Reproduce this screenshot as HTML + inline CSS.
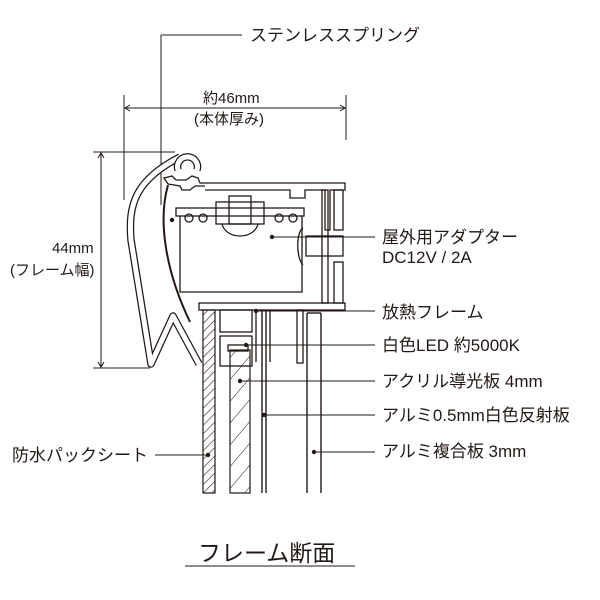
<!DOCTYPE html>
<html><head><meta charset="utf-8"><style>
body{margin:0;background:#fff}
svg{display:block}
text{font-family:"Liberation Sans","Noto Sans CJK JP",sans-serif;fill:#231815}
</style></head><body>
<svg width="600" height="600" viewBox="0 0 600 600" xmlns="http://www.w3.org/2000/svg">
<defs>
<pattern id="h" width="6" height="6" patternUnits="userSpaceOnUse" patternTransform="rotate(45)"><line x1="0" y1="0" x2="0" y2="6" stroke="#231815" stroke-width="1.2"/></pattern>
<pattern id="h2" width="14" height="14" patternUnits="userSpaceOnUse" patternTransform="rotate(40)"><line x1="0" y1="0" x2="0" y2="14" stroke="#231815" stroke-width="1"/></pattern>
</defs>
<g stroke="#231815" fill="none" stroke-width="1">
<line x1="161" y1="35" x2="242" y2="35"/>
<line x1="161" y1="35" x2="161" y2="205"/>
<line x1="124" y1="95" x2="124" y2="200"/>
<line x1="346" y1="95" x2="346" y2="140"/>
<line x1="125" y1="108" x2="345" y2="108"/>
<polyline points="130,105 125,108 130,111"/><polyline points="340,105 345,108 340,111"/>
<line x1="93" y1="152" x2="175" y2="152"/>
<line x1="93" y1="368" x2="150" y2="368"/>
<line x1="101" y1="153" x2="101" y2="367"/>
<polyline points="98,158 101,153 104,158"/><polyline points="98,362 101,367 104,362"/>
</g>
<g fill="none" stroke-linejoin="round" stroke-linecap="butt">
<path d="M199,364 L173,316 L151,364 L131,240 C128,205 135,180 180,157" stroke="#231815" stroke-width="7.5"/>
<path d="M199,364 L173,316 L151,364 L131,240 C128,205 135,180 180,157" stroke="#fff" stroke-width="5"/>
<path d="M178,170 A10,10 0 1 1 197,170" stroke="#231815" stroke-width="7.5"/>
<path d="M178,170 A10,10 0 1 1 197,170" stroke="#fff" stroke-width="5"/>
</g>
<g stroke="#231815" fill="none" stroke-width="1.3">
<polyline points="168,184 164,178 172,176 176,180 186,180 192,176 198,178 200,183 205,183"/>
<polyline points="168,184 180,186 182,190 190,190 195,186 205,186"/>
<path d="M168,185 C158,220 165,270 190,322" stroke-width="2"/>
<polyline points="205,183 345,183 345,190 330,190 330,230 325,230 325,190 305,190 305,198 290,198 290,190 205,190"/>
<rect x="176" y="208" width="128" height="8"/>
<path d="M180,216 L180,292 L302,292 L302,216"/>
<rect x="216" y="202" width="48" height="22"/>
<rect x="229" y="196" width="22" height="28"/>
<path d="M222,224 C226,240 254,240 258,224"/>
<circle cx="189" cy="218" r="4"/><circle cx="203" cy="218" r="4"/><circle cx="279" cy="218" r="4"/><circle cx="293" cy="218" r="4"/>
<path d="M303,228 C296,232 296,258 303,265"/>
<rect x="306" y="236" width="37" height="20"/>
<rect x="322" y="190" width="6" height="113"/>
<rect x="334" y="190" width="9" height="40"/>
<rect x="334" y="262" width="9" height="41"/>
<rect x="199" y="303" width="146" height="7"/>
<rect x="220" y="310" width="32" height="22"/>
<rect x="220" y="336" width="32" height="30"/>
<rect x="228" y="345" width="20" height="6"/>
<line x1="256" y1="310" x2="256" y2="362"/>
<line x1="270" y1="310" x2="270" y2="362"/>
<rect x="297" y="310" width="6" height="53"/>
</g>
<rect x="203" y="310" width="12" height="183" fill="url(#h)" stroke="#231815" stroke-width="1.2"/>
<rect x="230" y="350" width="20" height="143" fill="url(#h2)" stroke="#231815" stroke-width="1.2"/>
<g stroke="#231815" stroke-width="1.4">
<line x1="262" y1="310" x2="262" y2="493"/><line x1="266" y1="310" x2="266" y2="493"/>
<line x1="307" y1="313" x2="307" y2="493"/><line x1="321" y1="313" x2="321" y2="493"/>
<line x1="307" y1="313" x2="321" y2="313"/>
</g>
<g stroke="#231815" stroke-width="1">
<line x1="272" y1="237" x2="375" y2="237"/>
<line x1="256" y1="311" x2="375" y2="311"/>
<line x1="246" y1="345" x2="375" y2="345"/>
<line x1="240" y1="381" x2="375" y2="381"/>
<line x1="264" y1="415" x2="375" y2="415"/>
<line x1="314" y1="452" x2="375" y2="452"/>
<line x1="155" y1="455" x2="208" y2="455"/>
<line x1="185" y1="566" x2="355" y2="566"/>
</g>
<g fill="#231815">
<circle cx="172" cy="220" r="2.2"/><circle cx="272" cy="237" r="2.2"/><circle cx="256" cy="311" r="2.2"/>
<circle cx="246" cy="345" r="2.2"/><circle cx="240" cy="381" r="2.2"/><circle cx="264" cy="415" r="2.2"/>
<circle cx="314" cy="452" r="2.2"/><circle cx="208" cy="455" r="2.2"/>
</g>
<g font-size="17">
<text x="250" y="41">ステンレススプリング</text>
<text x="203" y="103" font-size="15">約46mm</text>
<text x="194" y="124" font-size="15">(本体厚み)</text>
<text x="52" y="253" font-size="15">44mm</text>
<text x="10" y="275" font-size="15">(フレーム幅)</text>
<text x="382" y="243">屋外用アダプター</text>
<text x="382" y="263">DC12V / 2A</text>
<text x="382" y="318">放熱フレーム</text>
<text x="382" y="351">白色LED 約5000K</text>
<text x="382" y="387">アクリル導光板 4mm</text>
<text x="382" y="421">アルミ0.5mm白色反射板</text>
<text x="382" y="457">アルミ複合板 3mm</text>
<text x="12" y="461">防水パックシート</text>
<text x="198" y="561" font-size="23">フレーム断面</text>
</g>
</svg>
</body></html>
